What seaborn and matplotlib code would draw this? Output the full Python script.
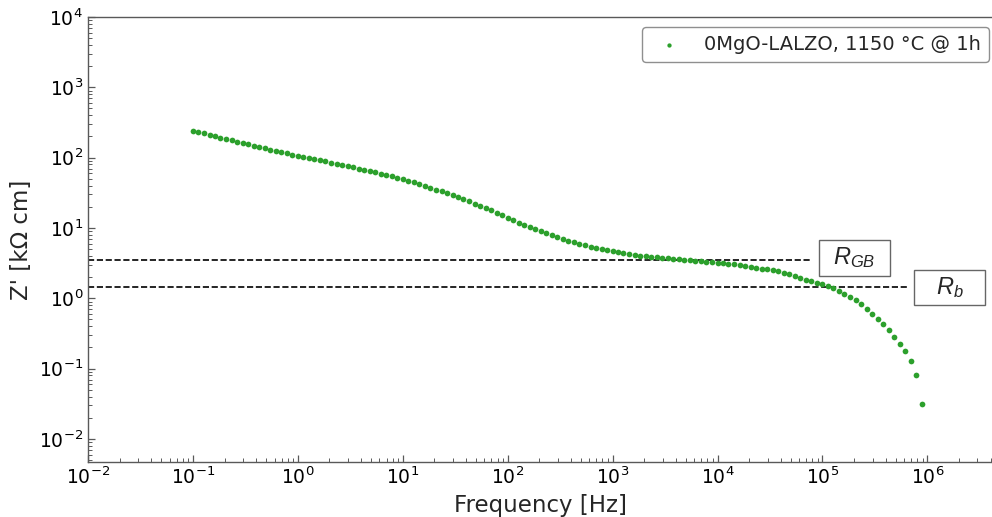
import matplotlib
matplotlib.use("Agg")
import matplotlib.pyplot as plt
from matplotlib.patches import Rectangle
from matplotlib.ticker import NullFormatter
import seaborn as sns
import pandas as pd

# Impedance sweep: frequency [Hz] and real part Z' [kOhm cm]
frequency_hz = [
    0.100, 0.113, 0.127, 0.144, 0.162, 0.183, 0.207, 0.234, 0.264, 0.298,
    0.336, 0.379, 0.428, 0.483, 0.546, 0.616, 0.695, 0.785, 0.886,
    1.00, 1.13, 1.27, 1.44, 1.62, 1.83, 2.07, 2.34, 2.64, 2.98,
    3.36, 3.79, 4.28, 4.83, 5.46, 6.16, 6.95, 7.85, 8.86,
    10.0, 11.3, 12.7, 14.4, 16.2, 18.3, 20.7, 23.4, 26.4, 29.8,
    33.6, 37.9, 42.8, 48.3, 54.6, 61.6, 69.5, 78.5, 88.6,
    100, 113, 127, 144, 162, 183, 207, 234, 264, 298,
    336, 379, 428, 483, 546, 616, 695, 785, 886,
    1.00e3, 1.13e3, 1.27e3, 1.44e3, 1.62e3, 1.83e3, 2.07e3, 2.34e3, 2.64e3, 2.98e3,
    3.36e3, 3.79e3, 4.28e3, 4.83e3, 5.46e3, 6.16e3, 6.95e3, 7.85e3, 8.86e3,
    1.00e4, 1.13e4, 1.27e4, 1.44e4, 1.62e4, 1.83e4, 2.07e4, 2.34e4, 2.64e4, 2.98e4,
    3.36e4, 3.79e4, 4.28e4, 4.83e4, 5.46e4, 6.16e4, 6.95e4, 7.85e4, 8.86e4,
    1.00e5, 1.13e5, 1.27e5, 1.44e5, 1.62e5, 1.83e5, 2.07e5, 2.34e5, 2.64e5, 2.98e5,
    3.36e5, 3.79e5, 4.28e5, 4.83e5, 5.46e5, 6.16e5, 6.95e5, 7.85e5, 8.86e5,
]

z_real_kohm_cm = [
    243.2, 232.3, 221.8, 211.3, 201.8, 192.8, 184.5, 176.6, 169.0, 161.8,
    155.0, 148.4, 142.1, 136.1, 130.3, 124.9, 119.9, 115.0, 110.4,
    105.9, 102.1, 98.5, 95.0, 91.6, 88.3, 84.9, 81.7, 78.6, 75.6,
    72.6, 69.7, 66.9, 64.2, 61.6, 59.0, 56.5, 54.1, 51.8,
    49.5, 47.0, 44.5, 42.2, 40.0, 37.5, 35.2, 33.1, 31.1, 29.2,
    27.4, 25.6, 23.9, 22.2, 20.7, 19.2, 17.8, 16.5, 15.2,
    14.0, 12.9, 11.9, 11.1, 10.3, 9.62, 9.02, 8.46, 7.94, 7.47,
    7.03, 6.61, 6.27, 5.97, 5.69, 5.43, 5.21, 5.00, 4.80,
    4.63, 4.48, 4.34, 4.23, 4.13, 4.03, 3.94, 3.88, 3.81, 3.75,
    3.69, 3.64, 3.58, 3.53, 3.48, 3.43, 3.38, 3.32, 3.27,
    3.22, 3.16, 3.09, 3.03, 2.96, 2.88, 2.80, 2.73, 2.65, 2.57,
    2.49, 2.42, 2.32, 2.22, 2.10, 1.945, 1.841, 1.762, 1.671,
    1.581, 1.507, 1.406, 1.288, 1.169, 1.057, 0.938, 0.830, 0.705, 0.598,
    0.508, 0.428, 0.355, 0.282, 0.227, 0.177, 0.129, 0.0824, 0.0316,
]

series_label = "0MgO-LALZO, 1150 °C @ 1h"

# Grain-boundary and bulk resistance levels
r_levels = [3.56, 1.43]
r_labels = [r"$R_{GB}$", r"$R_b$"]
r_line_ends = [7.9e4, 6.4e5]

# Label boxes (figure pixels: left, top, width, height)
r_boxes = [(819, 240, 71, 36), (914, 270, 71, 35)]

W, H = 992, 517

sns.set_style("white")
plt.rcParams["font.family"] = ["DejaVu Sans"]
plt.rcParams["mathtext.fontset"] = "custom"
plt.rcParams["mathtext.it"] = "Liberation Sans:italic"
plt.rcParams["mathtext.rm"] = "Liberation Sans"

df = pd.DataFrame({"freq": frequency_hz, "zre": z_real_kohm_cm})

fig = plt.figure(figsize=(W / 100, H / 100), dpi=100)
ax = fig.add_axes([88 / W, 1 - 462 / H, 1 - 88 / W, (462 - 17) / H])

sns.scatterplot(data=df, x="freq", y="zre", color="#2ca02c", s=17,
                linewidth=0, label=series_label, ax=ax, zorder=3)

ax.set_xscale("log")
ax.set_yscale("log")
ax.set_xlim(1e-2, 4.13e6)
ax.set_ylim(4.7e-3, 1e4)
ax.xaxis.set_minor_formatter(NullFormatter())
ax.yaxis.set_minor_formatter(NullFormatter())

for lvl, xend in zip(r_levels, r_line_ends):
    ax.hlines(lvl, 1e-2, xend, colors="black", linestyles="--", linewidth=1.2, zorder=2)

for lab, (bx, by, bw, bh) in zip(r_labels, r_boxes):
    fig.patches.append(Rectangle((bx / W, 1 - (by + bh) / H), bw / W, bh / H,
                                 transform=fig.transFigure, facecolor="white",
                                 edgecolor="0.4", linewidth=1.0, zorder=5))
    fig.text((bx + bw / 2) / W, 1 - (by + bh / 2) / H, lab, fontsize=17,
             ha="center", va="center", zorder=6)

ax.set_xlabel("Frequency [Hz]", fontsize=16.5)
ax.set_ylabel("Z' [kΩ cm]", fontsize=16.5)

for side in ["left", "bottom", "top"]:
    ax.spines[side].set_color("0.35")
    ax.spines[side].set_linewidth(1.0)
ax.spines["right"].set_visible(False)

ax.tick_params(axis="both", which="both", direction="in", colors="0.35",
               labelcolor="black", labelsize=13.5)
ax.tick_params(which="major", length=5, width=0.9)
ax.tick_params(which="minor", length=3, width=0.7)
ax.tick_params(axis="both", which="both", bottom=True, left=True, top=False, right=False)

leg = ax.legend(loc="upper right", bbox_to_anchor=(989 / W, 1 - 27 / H),
                bbox_transform=fig.transFigure, borderaxespad=0, fontsize=14,
                frameon=True, fancybox=True, edgecolor="0.45", markerscale=0.75)
leg.get_frame().set_linewidth(1.0)

fig.savefig("out.png", dpi=100)
